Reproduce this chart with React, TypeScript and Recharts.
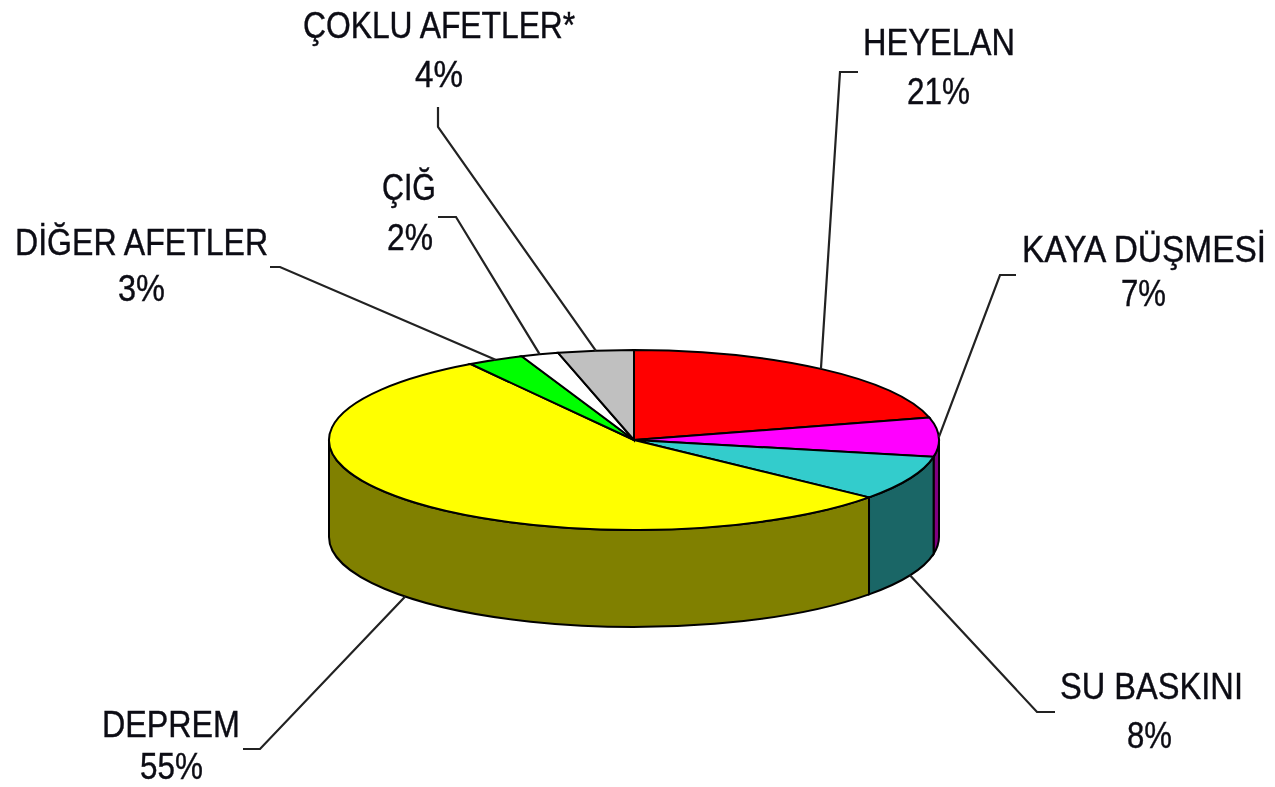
import { PieChart, Pie } from 'recharts';

const names = ['HEYELAN', 'KAYA DÜŞMESİ', 'SU BASKINI', 'DEPREM', 'DİĞER AFETLER', 'ÇIĞ', 'ÇOKLU AFETLER*'];
const values = [21, 7, 8, 55, 3, 2, 4];
const topColors = ['#ff0000', '#ff00ff', '#33cccc', '#ffff00', '#00ff00', '#ffffff', '#c0c0c0'];
const wallColors = ['#800000', '#800080', '#1a6666', '#808000', '#008000', '#808080', '#606060'];

const data = names.map((name, i) => ({ name, value: values[i], fill: topColors[i], wall: wallColors[i] }));

// the pie is a flat circle to recharts, these squash it into the tilted disc
const TILT = 90 / 305;
const DEPTH = 97;
const FONT = '"Liberation Sans", Arial, sans-serif';
const FONT_SIZE = 37;

// where the two text lines and the leader elbows go
const nameLabels = [
  { x: 863, w: 152, y: 55 },
  { x: 1022, w: 246, y: 262 },
  { x: 1060, w: 183, y: 699 },
  { x: 102, w: 138, y: 737 },
  { x: 15, w: 255, y: 255 },
  { x: 382, w: 54, y: 200 },
  { x: 303, w: 274, y: 38 },
];
const valueLabels = [
  { x: 907, w: 63, y: 104 },
  { x: 1121, w: 45, y: 306 },
  { x: 1127, w: 45, y: 748 },
  { x: 140, w: 63, y: 779 },
  { x: 118, w: 47, y: 301 },
  { x: 387, w: 46, y: 250 },
  { x: 415, w: 48, y: 87 },
];
const elbows = [
  [[840, 72], [858, 72]],
  [[1000, 275], [1016, 275]],
  [[1037, 712], [1055, 712]],
  [[260, 749], [243, 749]],
  [[280, 267], [270, 267]],
  [[456, 217], [438, 217]],
  [[438, 127], [438, 107]],
];

const RAD = Math.PI / 180;

const onEllipse = (cx: number, cy: number, r: number, angle: number) => ({
  x: cx + r * Math.cos(angle * RAD),
  y: cy - r * TILT * Math.sin(angle * RAD),
});

const measureCtx = document.createElement('canvas').getContext('2d')!;
measureCtx.font = `${FONT_SIZE}px ${FONT}`;

// reference text is a narrowed Arial, squeeze each string to its measured width
const SqueezedText = ({ text, x, y, w }: { text: string; x: number; y: number; w: number }) => (
  <text
    transform={`translate(${x},${y}) scale(${w / measureCtx.measureText(text).width},1)`}
    fontFamily={FONT}
    fontSize={FONT_SIZE}
    fill="#0c0c14"
    stroke="#0c0c14"
    strokeWidth={0.4}
  >
    {text}
  </text>
);

const DiscSlice = (props: any) => {
  const { cx, cy, outerRadius: r, startAngle, endAngle, fill, payload } = props;
  const ry = r * TILT;
  const a = onEllipse(cx, cy, r, startAngle);
  const b = onEllipse(cx, cy, r, endAngle);
  const large = Math.abs(startAngle - endAngle) > 180 ? 1 : 0;

  // side wall only shows on the front half, -180..0
  const wallFrom = Math.min(startAngle, 0);
  const wallTo = Math.max(endAngle, -180);
  let wall = null;
  if (wallFrom > wallTo) {
    const p = onEllipse(cx, cy, r, wallFrom);
    const q = onEllipse(cx, cy, r, wallTo);
    wall = (
      <path
        d={`M${p.x},${p.y} A${r},${ry} 0 0 1 ${q.x},${q.y} L${q.x},${q.y + DEPTH} A${r},${ry} 0 0 0 ${p.x},${p.y + DEPTH} Z`}
        fill={payload?.wall ?? props.wall}
        stroke="#000"
        strokeWidth={2}
      />
    );
  }

  return (
    <g>
      {wall}
      <path
        d={`M${cx},${cy} L${a.x},${a.y} A${r},${ry} 0 ${large} 1 ${b.x},${b.y} Z`}
        fill={fill}
        stroke="#000"
        strokeWidth={2}
      />
    </g>
  );
};

const SliceLabel = (props: any) => {
  const { cx, cy, outerRadius: r, midAngle, index, name, value } = props;
  const start = onEllipse(cx, cy, r, midAngle);
  // leaders for slices at the front leave from the bottom of the wall
  const y0 = Math.sin(midAngle * RAD) < -0.2 ? start.y + DEPTH : start.y;
  const [e1, e2] = elbows[index];
  const n = nameLabels[index];
  const v = valueLabels[index];
  return (
    <g>
      <polyline
        points={`${start.x},${y0} ${e1[0]},${e1[1]} ${e2[0]},${e2[1]}`}
        fill="none"
        stroke="#222"
        strokeWidth={2.2}
      />
      <SqueezedText text={name} x={n.x} y={n.y} w={n.w} />
      <SqueezedText text={`${value}%`} x={v.x} y={v.y} w={v.w} />
    </g>
  );
};

export default function App() {
  return (
    <div style={{ position: 'absolute', left: 0, top: 0, width: 1275, height: 787, background: '#fff', filter: 'blur(0.6px)' }}>
      <PieChart width={1275} height={787} margin={{ top: 0, right: 0, bottom: 0, left: 0 }}>
        <Pie
          data={data}
          dataKey="value"
          nameKey="name"
          cx={634}
          cy={440}
          outerRadius={305}
          startAngle={90}
          endAngle={-270}
          paddingAngle={0}
          shape={DiscSlice}
          label={SliceLabel}
          labelLine={false}
          isAnimationActive={false}
        />
      </PieChart>
    </div>
  );
}
